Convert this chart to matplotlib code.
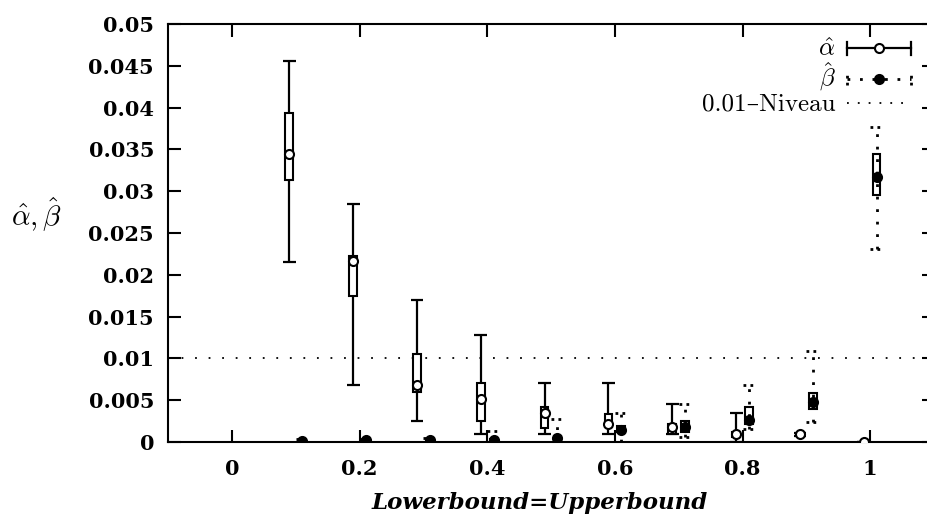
import matplotlib.pyplot as plt
from matplotlib.lines import Line2D
from matplotlib.legend_handler import HandlerBase
from matplotlib.ticker import FixedLocator

plt.rcParams['mathtext.fontset'] = 'cm'
plt.rcParams['font.family'] = ['DejaVu Serif']

# alpha-hat series (slightly left of each bound)
alpha_x = [0.09, 0.19, 0.29, 0.39, 0.49, 0.59, 0.69, 0.79, 0.89, 0.99]
alpha_min = [0.0215, 0.0068, 0.0025, 0.0009, 0.0009, 0.0009, 0.0009, 0.0, 0.0007, 0.0]
alpha_box_lo = [0.0313, 0.0175, 0.0060, 0.0025, 0.0017, 0.0018, 0.0010, 0.0006, 0.0008, 0.0]
alpha_mid = [0.0344, 0.0216, 0.0068, 0.0052, 0.0035, 0.0022, 0.0018, 0.0009, 0.0009, 0.0]
alpha_box_hi = [0.0394, 0.0222, 0.0105, 0.0070, 0.0042, 0.0034, 0.0022, 0.0012, 0.0010, 0.0]
alpha_max = [0.0456, 0.0285, 0.0170, 0.0128, 0.0071, 0.0071, 0.0045, 0.0035, 0.0011, 0.0]

# beta-hat series (slightly right of each bound)
beta_x = [0.11, 0.21, 0.31, 0.41, 0.51, 0.61, 0.71, 0.81, 0.91, 1.01]
beta_min = [0.0, 0.0, 0.0, 0.0, 0.0, 0.0, 0.0006, 0.0015, 0.0024, 0.0231]
beta_box_lo = [0.0001, 0.0001, 0.0001, 0.0001, 0.0002, 0.0012, 0.0012, 0.0022, 0.0039, 0.0296]
beta_mid = [0.0001, 0.0002, 0.0002, 0.0002, 0.0005, 0.0014, 0.0018, 0.0026, 0.0048, 0.0317]
beta_box_hi = [0.0002, 0.0002, 0.0003, 0.0004, 0.0007, 0.0019, 0.0025, 0.0042, 0.0059, 0.0344]
beta_max = [0.0003, 0.0004, 0.0005, 0.0013, 0.0028, 0.0035, 0.0046, 0.0068, 0.0109, 0.0377]

level = 0.01

x_ticks = [0, 0.2, 0.4, 0.6, 0.8, 1.0]
x_tick_labels = ['0', '0.2', '0.4', '0.6', '0.8', '1']
y_ticks = [0, 0.005, 0.01, 0.015, 0.02, 0.025, 0.03, 0.035, 0.04, 0.045, 0.05]
y_tick_labels = ['0', '0.005', '0.01', '0.015', '0.02', '0.025', '0.03',
                 '0.035', '0.04', '0.045', '0.05']

DOTS = (0, (1, 3.5))
CAPDOTS = (0, (1, 1.5))
CAP_W = 0.01
BOX_W = 0.012
TICK_FONT = dict(family='DejaVu Serif', size=15, weight='bold')


def draw_series(ax, x, lo, blo, mid, bhi, hi, ls, capls, lw, mfc, boxfc):
    ax.vlines(x, lo, hi, colors='k', linestyles=ls, lw=lw, zorder=2)
    ax.hlines(lo, [v - CAP_W for v in x], [v + CAP_W for v in x],
              colors='k', linestyles=capls, lw=lw, zorder=2)
    ax.hlines(hi, [v - CAP_W for v in x], [v + CAP_W for v in x],
              colors='k', linestyles=capls, lw=lw, zorder=2)
    heights = [h - l for h, l in zip(bhi, blo)]
    ax.bar(x, heights, bottom=blo, width=BOX_W, facecolor=boxfc,
           edgecolor='k', lw=1.5, zorder=3)
    ax.plot(x, mid, 'o', ms=6.5, mfc=mfc, mec='k', mew=1.5, zorder=4)


class WhiskerHandler(HandlerBase):
    def __init__(self, ls, capls, lw, mfc):
        super().__init__()
        self.ls, self.capls, self.lw, self.mfc = ls, capls, lw, mfc

    def create_artists(self, legend, orig_handle, xdescent, ydescent,
                       width, height, fontsize, trans):
        y = height / 2 - ydescent
        x0, x1 = -xdescent, width - xdescent
        h = height * 0.45
        arts = [Line2D([x0, x1], [y, y], color='k', ls=self.ls, lw=self.lw),
                Line2D([x0, x0], [y - h, y + h], color='k', ls=self.capls, lw=self.lw),
                Line2D([x1, x1], [y - h, y + h], color='k', ls=self.capls, lw=self.lw),
                Line2D([(x0 + x1) / 2], [y], marker='o', ms=6.5, mfc=self.mfc,
                       mec='k', mew=1.5, ls='none')]
        for a in arts:
            a.set_transform(trans)
        return arts


fig = plt.figure(figsize=(9.27, 5.2), dpi=100)
ax = fig.add_axes([168 / 927, 78 / 520, 766 / 927, 418 / 520])

draw_series(ax, alpha_x, alpha_min, alpha_box_lo, alpha_mid, alpha_box_hi,
            alpha_max, '-', '-', 1.6, 'white', 'white')
draw_series(ax, beta_x, beta_min, beta_box_lo, beta_mid, beta_box_hi,
            beta_max, DOTS, CAPDOTS, 2.0, 'k', 'none')
ax.axhline(level, color='k', lw=1.3, ls=(0, (1, 6.5)), zorder=1)

ax.set_xlim(-0.1, 1.1)
ax.set_ylim(0, 0.05)
ax.xaxis.set_major_locator(FixedLocator(x_ticks))
ax.yaxis.set_major_locator(FixedLocator(y_ticks))
ax.set_xticklabels(x_tick_labels, **TICK_FONT)
ax.set_yticklabels(y_tick_labels, **TICK_FONT)
ax.tick_params(direction='in', length=9, width=1.5, top=True, right=True)
ax.tick_params(axis='x', pad=12)
ax.tick_params(axis='y', pad=10)
for s in ax.spines.values():
    s.set_linewidth(1.5)

ax.set_xlabel('Lowerbound=Upperbound', fontsize=16.5, fontweight='bold',
              fontstyle='italic')
ax.xaxis.set_label_coords(0.485, -0.12)
ax.set_ylabel(r'$\hat{\alpha}, \hat{\beta}$', fontsize=21, rotation=0)
ax.yaxis.set_label_coords(-0.171, 0.5)

h_a = Line2D([], [], label=r'$\hat{\alpha}$')
h_b = Line2D([], [], label=r'$\hat{\beta}$')
h_l = Line2D([], [], color='k', lw=1.3, ls=(0, (1, 5)), label='0.01\u2013Niveau')
leg = ax.legend(handles=[h_a, h_b, h_l], loc='upper right',
                bbox_to_anchor=(0.995, 1.012), frameon=False,
                markerfirst=False, handlelength=3.1, labelspacing=0.0,
                handletextpad=0.55, fontsize=15,
                handler_map={h_a: WhiskerHandler('-', '-', 1.6, 'white'),
                             h_b: WhiskerHandler(DOTS, CAPDOTS, 2.0, 'k')})
for t in leg.get_texts():
    t.set_ha('right')
    t.set_fontsize(18)
leg.get_texts()[2].set_family(['cmr10', 'DejaVu Serif'])

fig.savefig('out.png', dpi=100)
